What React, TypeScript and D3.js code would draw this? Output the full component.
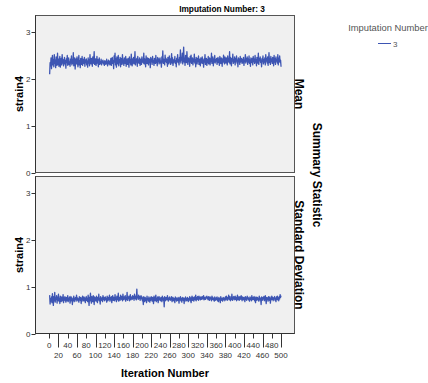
import React from "react";
import * as d3 from "d3";

const title = "Imputation Number: 3";
const legendTitle = "Imputation Number";
const seriesName = "3";
const panelLabels = ["Mean", "Standard Deviation"];
const yTickValues = [0, 1, 2, 3];
const xTickValues = [0, 20, 40, 60, 80, 100, 120, 140, 160, 180, 200, 220, 240, 260, 280, 300, 320, 340, 360, 380, 400, 420, 440, 460, 480, 500];

const meanValues = [
  2.10, 2.35, 2.28, 2.45, 2.22, 2.38, 2.50, 2.30, 2.41, 2.26, 2.52, 2.33, 2.40, 2.24, 2.47, 2.36, 2.29, 2.55, 2.31, 2.42,
  2.27, 2.39, 2.48, 2.25, 2.36, 2.44, 2.30, 2.52, 2.34, 2.41, 2.28, 2.37, 2.46, 2.32, 2.39, 2.23, 2.43, 2.35, 2.50, 2.29,
  2.38, 2.45, 2.31, 2.36, 2.27, 2.42, 2.34, 2.49, 2.30, 2.40, 2.33, 2.56, 2.28, 2.38, 2.45, 2.21, 2.37, 2.43, 2.32, 2.47,
  2.35, 2.26, 2.41, 2.50, 2.30, 2.39, 2.24, 2.44, 2.36, 2.31, 2.48, 2.29, 2.42, 2.37, 2.33, 2.46, 2.27, 2.40, 2.35, 2.43,
  2.30, 2.38, 2.25, 2.45, 2.34, 2.41, 2.28, 2.52, 2.36, 2.32, 2.44, 2.39, 2.27, 2.47, 2.33, 2.40, 2.58, 2.31, 2.37, 2.43,
  2.29, 2.36, 2.48, 2.34, 2.41, 2.26, 2.39, 2.45, 2.31, 2.37, 2.33, 2.42, 2.30, 2.38, 2.35, 2.40, 2.32, 2.36, 2.29, 2.39,
  2.34, 2.31, 2.37, 2.42, 2.33, 2.28, 2.36, 2.40, 2.32, 2.38, 2.30, 2.35, 2.44, 2.29, 2.37, 2.46, 2.33, 2.39, 2.22, 2.49,
  2.36, 2.55, 2.30, 2.43, 2.25, 2.47, 2.38, 2.32, 2.50, 2.28, 2.41, 2.35, 2.46, 2.26, 2.44, 2.37, 2.31, 2.52, 2.34, 2.40,
  2.29, 2.45, 2.38, 2.33, 2.48, 2.27, 2.42, 2.36, 2.31, 2.44, 2.39, 2.25, 2.47, 2.35, 2.41, 2.30, 2.53, 2.37, 2.28, 2.43,
  2.34, 2.46, 2.32, 2.39, 2.58, 2.30, 2.41, 2.36, 2.44, 2.27, 2.48, 2.35, 2.40, 2.33, 2.45, 2.29, 2.38, 2.42, 2.31, 2.47,
  2.36, 2.40, 2.34, 2.55, 2.32, 2.43, 2.37, 2.26, 2.49, 2.38, 2.33, 2.45, 2.39, 2.30, 2.44, 2.35, 2.41, 2.24, 2.46, 2.37,
  2.42, 2.31, 2.48, 2.36, 2.39, 2.29, 2.44, 2.38, 2.33, 2.50, 2.35, 2.40, 2.28, 2.46, 2.37, 2.43, 2.32, 2.39, 2.45, 2.34,
  2.38, 2.25, 2.47, 2.36, 2.60, 2.33, 2.42, 2.39, 2.30, 2.51, 2.37, 2.44, 2.35, 2.41, 2.27, 2.46, 2.38, 2.32, 2.49, 2.36,
  2.43, 2.31, 2.40, 2.54, 2.34, 2.45, 2.29, 2.38, 2.41, 2.36, 2.48, 2.33, 2.39, 2.26, 2.44, 2.37, 2.52, 2.35, 2.41, 2.30,
  2.46, 2.38, 2.62, 2.34, 2.43, 2.40, 2.55, 2.32, 2.47, 2.68, 2.36, 2.44, 2.29, 2.50, 2.39, 2.35, 2.58, 2.41, 2.31, 2.45,
  2.38, 2.43, 2.27, 2.48, 2.36, 2.51, 2.33, 2.40, 2.45, 2.30, 2.42, 2.37, 2.53, 2.34, 2.41, 2.26, 2.46, 2.39, 2.32, 2.44,
  2.37, 2.49, 2.31, 2.42, 2.36, 2.28, 2.45, 2.39, 2.34, 2.47, 2.33, 2.40, 2.25, 2.43, 2.36, 2.52, 2.31, 2.38, 2.44, 2.29,
  2.41, 2.35, 2.48, 2.32, 2.39, 2.45, 2.30, 2.43, 2.37, 2.55, 2.33, 2.40, 2.47, 2.28, 2.42, 2.36, 2.50, 2.34, 2.41, 2.38,
  2.44, 2.31, 2.39, 2.46, 2.35, 2.42, 2.29, 2.48, 2.37, 2.33, 2.45, 2.40, 2.27, 2.43, 2.36, 2.51, 2.38, 2.32, 2.47, 2.41,
  2.34, 2.45, 2.39, 2.30, 2.49, 2.37, 2.42, 2.35, 2.58, 2.32, 2.46, 2.40, 2.28, 2.44, 2.38, 2.53, 2.33, 2.41, 2.36, 2.47,
  2.30, 2.43, 2.38, 2.49, 2.34, 2.40, 2.26, 2.45, 2.37, 2.42, 2.31, 2.48, 2.36, 2.39, 2.44, 2.33, 2.41, 2.35, 2.46, 2.29,
  2.40, 2.37, 2.52, 2.34, 2.43, 2.38, 2.47, 2.31, 2.42, 2.36, 2.49, 2.33, 2.40, 2.27, 2.45, 2.39, 2.35, 2.44, 2.30, 2.48,
  2.37, 2.42, 2.33, 2.50, 2.36, 2.41, 2.28, 2.46, 2.38, 2.34, 2.55, 2.31, 2.43, 2.39, 2.47, 2.35, 2.40, 2.26, 2.44, 2.37,
  2.49, 2.32, 2.41, 2.36, 2.45, 2.30, 2.52, 2.38, 2.43, 2.34, 2.47, 2.29, 2.40, 2.56, 2.35, 2.44, 2.31, 2.48, 2.37, 2.42,
  2.33, 2.46, 2.39, 2.28, 2.50, 2.36, 2.43, 2.31, 2.47, 2.38, 2.41, 2.34, 2.52, 2.30, 2.44, 2.37, 2.49, 2.35, 2.40, 2.26,
];

const sdValues = [
  0.82, 0.63, 0.74, 0.69, 0.78, 0.66, 0.85, 0.72, 0.60, 0.79, 0.70, 0.88, 0.67, 0.76, 0.73, 0.81, 0.65, 0.77, 0.71, 0.84,
  0.69, 0.75, 0.64, 0.80, 0.72, 0.68, 0.78, 0.74, 0.70, 0.83, 0.66, 0.76, 0.71, 0.79, 0.73, 0.67, 0.77, 0.74, 0.70, 0.81,
  0.68, 0.75, 0.72, 0.78, 0.65, 0.73, 0.79, 0.70, 0.76, 0.62, 0.74, 0.71, 0.80, 0.68, 0.75, 0.73, 0.77, 0.69, 0.82, 0.72,
  0.76, 0.70, 0.74, 0.67, 0.79, 0.73, 0.71, 0.77, 0.64, 0.75, 0.72, 0.80, 0.69, 0.74, 0.78, 0.70, 0.76, 0.66, 0.73, 0.79,
  0.71, 0.75, 0.68, 0.82, 0.73, 0.60, 0.77, 0.70, 0.86, 0.74, 0.65, 0.79, 0.72, 0.68, 0.81, 0.75, 0.62, 0.78, 0.71, 0.76,
  0.69, 0.80, 0.73, 0.66, 0.77, 0.72, 0.84, 0.70, 0.75, 0.63, 0.79, 0.74, 0.71, 0.76, 0.68, 0.81, 0.73, 0.77, 0.70, 0.74,
  0.78, 0.72, 0.75, 0.67, 0.80, 0.74, 0.70, 0.77, 0.73, 0.82, 0.69, 0.76, 0.72, 0.79, 0.66, 0.75, 0.81, 0.71, 0.77, 0.74,
  0.70, 0.83, 0.73, 0.76, 0.68, 0.80, 0.75, 0.72, 0.86, 0.69, 0.77, 0.74, 0.71, 0.82, 0.76, 0.73, 0.79, 0.70, 0.84, 0.75,
  0.72, 0.78, 0.74, 0.81, 0.69, 0.76, 0.73, 0.88, 0.71, 0.77, 0.75, 0.80, 0.70, 0.74, 0.83, 0.72, 0.78, 0.76, 0.73, 0.81,
  0.75, 0.79, 0.71, 0.84, 0.77, 0.74, 0.80, 0.72, 0.95, 0.76, 0.78, 0.73, 0.82, 0.75, 0.79, 0.71, 0.77, 0.81, 0.74, 0.78,
  0.70, 0.76, 0.62, 0.79, 0.73, 0.68, 0.77, 0.71, 0.75, 0.66, 0.80, 0.72, 0.74, 0.69, 0.78, 0.73, 0.67, 0.76, 0.71, 0.79,
  0.74, 0.69, 0.77, 0.72, 0.64, 0.80, 0.73, 0.70, 0.76, 0.82, 0.68, 0.75, 0.71, 0.78, 0.66, 0.74, 0.79, 0.72, 0.75, 0.70,
  0.77, 0.73, 0.68, 0.80, 0.74, 0.71, 0.76, 0.57, 0.79, 0.73, 0.70, 0.77, 0.75, 0.72, 0.81, 0.74, 0.69, 0.76, 0.73, 0.78,
  0.71, 0.75, 0.72, 0.79, 0.68, 0.74, 0.77, 0.70, 0.75, 0.73, 0.66, 0.78, 0.72, 0.76, 0.69, 0.74, 0.71, 0.77, 0.73, 0.65,
  0.76, 0.72, 0.79, 0.70, 0.74, 0.67, 0.77, 0.73, 0.71, 0.76, 0.64, 0.75, 0.72, 0.78, 0.69, 0.74, 0.71, 0.77, 0.73, 0.68,
  0.75, 0.72, 0.79, 0.70, 0.76, 0.66, 0.74, 0.80, 0.71, 0.77, 0.73, 0.69, 0.78, 0.74, 0.72, 0.82, 0.70, 0.76, 0.73, 0.79,
  0.75, 0.71, 0.80, 0.74, 0.77, 0.72, 0.78, 0.75, 0.73, 0.79, 0.76, 0.74, 0.81, 0.72, 0.77, 0.75, 0.73, 0.78, 0.76, 0.80,
  0.74, 0.77, 0.72, 0.79, 0.75, 0.71, 0.78, 0.74, 0.76, 0.70, 0.80, 0.73, 0.77, 0.72, 0.75, 0.69, 0.78, 0.74, 0.71, 0.76,
  0.73, 0.78, 0.70, 0.75, 0.68, 0.77, 0.72, 0.74, 0.66, 0.79, 0.71, 0.75, 0.73, 0.69, 0.77, 0.72, 0.76, 0.74, 0.70, 0.78,
  0.73, 0.80, 0.75, 0.71, 0.77, 0.74, 0.82, 0.72, 0.76, 0.79, 0.70, 0.75, 0.73, 0.84, 0.71, 0.77, 0.74, 0.79, 0.72, 0.76,
  0.80, 0.73, 0.77, 0.70, 0.75, 0.82, 0.72, 0.78, 0.74, 0.71, 0.79, 0.76, 0.73, 0.81, 0.75, 0.70, 0.78, 0.74, 0.72, 0.77,
  0.75, 0.68, 0.79, 0.73, 0.76, 0.71, 0.80, 0.74, 0.77, 0.72, 0.75, 0.69, 0.78, 0.73, 0.76, 0.70, 0.81, 0.74, 0.72, 0.77,
  0.73, 0.79, 0.70, 0.76, 0.66, 0.78, 0.74, 0.71, 0.77, 0.73, 0.75, 0.69, 0.80, 0.72, 0.76, 0.74, 0.62, 0.78, 0.73, 0.71,
  0.77, 0.74, 0.79, 0.70, 0.75, 0.81, 0.72, 0.64, 0.77, 0.73, 0.76, 0.69, 0.79, 0.74, 0.71, 0.78, 0.65, 0.75, 0.72, 0.80,
  0.73, 0.77, 0.70, 0.76, 0.74, 0.79, 0.71, 0.75, 0.68, 0.78, 0.73, 0.80, 0.72, 0.76, 0.70, 0.79, 0.74, 0.83, 0.77, 0.81,
];

const W = 428;
const H = 383;
const LEFT = 35.5;
const RIGHT = 294.5;
const PANELS = [
  { top: 15.5, bottom: 172.5 },
  { top: 176.5, bottom: 333.5 },
];
const LINE_COLOR = "#3d55b3";
const FONT = "'Liberation Sans', Arial, sans-serif";

export default function App() {
  const x = d3.scaleLinear().domain([-29.5, 529]).range([LEFT, RIGHT]);
  const series = [meanValues, sdValues];

  return (
    <svg
      width={W}
      height={H}
      style={{ position: "absolute", left: 0, top: 0, background: "#fff" }}
      fontFamily={FONT}
    >
      <text x={222} y={12} textAnchor="middle" fontSize={8.3} fontWeight="bold" fill="#000">
        {title}
      </text>

      {PANELS.map((p, i) => {
        const y = d3.scaleLinear().domain([0, 3.355]).range([p.bottom, p.top]);
        const line = d3
          .line<number>()
          .x((_, j) => x(j + 1))
          .y((d) => y(d));
        const mid = (p.top + p.bottom) / 2;
        return (
          <g key={i}>
            <rect x={LEFT} y={p.top} width={RIGHT - LEFT} height={p.bottom - p.top} fill="#f0f0f0" stroke="#555" strokeWidth={1} />
            <path d={line(series[i]) || ""} fill="none" stroke={LINE_COLOR} strokeWidth={1.3} strokeLinejoin="round" />
            <line x1={LEFT} x2={LEFT} y1={p.top} y2={p.bottom} stroke="#333" strokeWidth={1} />
            {yTickValues.map((t) => (
              <g key={t}>
                <line x1={LEFT - 4} x2={LEFT} y1={Math.round(y(t)) + 0.5} y2={Math.round(y(t)) + 0.5} stroke="#333" />
                <text x={LEFT - 5} y={y(t) + 3} textAnchor="end" fontSize={8} fill="#333">
                  {t}
                </text>
              </g>
            ))}
            <text
              transform={`translate(${23},${mid}) rotate(-90)`}
              textAnchor="middle"
              fontSize={11}
              fontWeight="bold"
              fill="#000"
            >
              strain4
            </text>
            <text
              transform={`translate(${295},${mid}) rotate(90)`}
              textAnchor="middle"
              fontSize={12}
              fontWeight="bold"
              fill="#000"
            >
              {panelLabels[i]}
            </text>
          </g>
        );
      })}

      <line x1={LEFT} x2={RIGHT} y1={PANELS[1].bottom} y2={PANELS[1].bottom} stroke="#333" />
      {xTickValues.map((t, i) => {
        const px = Math.round(x(t)) + 0.5;
        const odd = i % 2 === 1;
        return (
          <g key={t}>
            <line x1={px} x2={px} y1={PANELS[1].bottom} y2={PANELS[1].bottom + (odd ? 14 : 5)} stroke="#333" />
            <text x={x(t)} y={PANELS[1].bottom + (odd ? 24 : 14)} textAnchor="middle" fontSize={8} fill="#333">
              {t}
            </text>
          </g>
        );
      })}
      <text x={165} y={377} textAnchor="middle" fontSize={11} fontWeight="bold" fill="#000">
        Iteration Number
      </text>

      <text
        transform={`translate(${313},${175}) rotate(90)`}
        textAnchor="middle"
        fontSize={12}
        fontWeight="bold"
        fill="#000"
      >
        Summary Statistic
      </text>

      <text x={388} y={31} textAnchor="middle" fontSize={9.4} fill="#555">
        {legendTitle}
      </text>
      <line x1={378} x2={391} y1={43.5} y2={43.5} stroke={LINE_COLOR} strokeWidth={1} />
      <text x={393} y={46.5} fontSize={8} fill="#555">
        {seriesName}
      </text>
    </svg>
  );
}
